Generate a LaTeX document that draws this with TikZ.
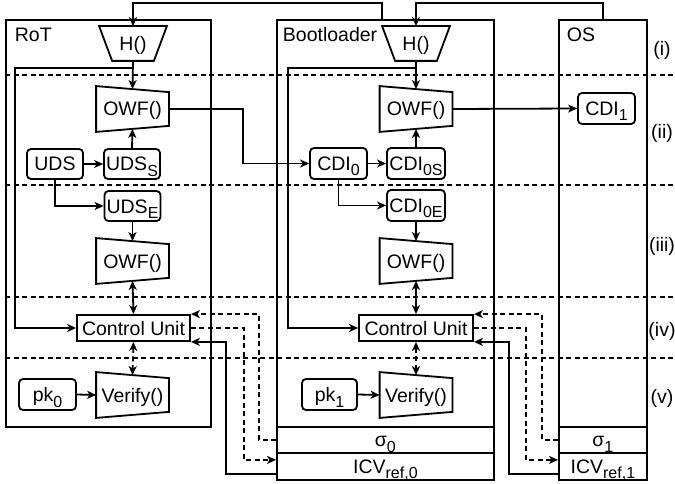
\documentclass[tikz,border=0pt]{standalone}
\usepackage{fontspec}
\setmainfont{Liberation Sans}
\usetikzlibrary{arrows.meta,calc}
\newcommand\sbs[1]{\raisebox{-5.5pt}[0pt][0pt]{\fontsize{16}{16}\selectfont #1}}
\begin{document}
\begin{tikzpicture}[x=1pt,y=-1pt, line width=1.8pt,
  font=\fontsize{19.5}{22}\selectfont,
  tip/.tip={Stealth[length=9pt,width=8pt,inset=2.5pt]},
  arr/.style={-tip},
  barr/.style={tip-tip},
  dsh/.style={dash pattern=on 5pt off 3.5pt},
  box/.style={draw, inner sep=0pt, text height=14pt, text depth=0pt},
  rbox/.style={box, rounded corners=4pt},
  shp/.style={inner sep=0pt, text height=14pt, text depth=0pt, minimum width=71pt, minimum height=44pt},
  hshp/.style={inner sep=0pt, text height=14pt, text depth=0pt, minimum width=66pt, minimum height=33pt},
  cont/.style={draw, inner sep=0pt, anchor=north west},
  cell/.style={cont, text height=14pt, text depth=0pt},
  lbl/.style={inner sep=0pt, anchor=base west},
  side/.style={inner sep=0pt, text height=14pt, text depth=0pt},
]
\useasboundingbox (0,0) rectangle (675,484);

% phase separators
\foreach \yy in {75,185,297,358}
  \draw[dsh] (5,\yy) -- (675,\yy);

% containers
\node[cont, minimum width=205pt, minimum height=407pt] (rot) at (5,19) {};
\node[cont, minimum width=217pt, minimum height=407pt] (boot) at (276,19) {};
\node[cont, minimum width=88pt, minimum height=407pt] (os) at (558,19) {};
\node[cell, minimum width=217pt, minimum height=26pt] (sig0) at (276,426) {σ\sbs{0}};
\node[cell, minimum width=217pt, minimum height=27pt] (icv0) at (276,452) {ICV\sbs{ref,0}};
\node[cell, minimum width=88pt, minimum height=26pt] (sig1) at (558,426) {σ\sbs{1}};
\node[cell, minimum width=88pt, minimum height=27pt] (icv1) at (558,452) {ICV\sbs{ref,1}};

\node[lbl] (lrot) at (14,42) {RoT};
\node[lbl] (lboot) at (282,42) {Bootloader};
\node[lbl] (los) at (566,42) {OS};

\node[side] (p1) at (662,49) {(i)};
\node[side] (p2) at (662,132) {(ii)};
\node[side] (p3) at (662,244) {(iii)};
\node[side] (p4) at (662,329) {(iv)};
\node[side] (p5) at (662,396) {(v)};

% RoT column
\node[hshp] (hR) at (133,43.5) {H()};
\node[shp] (owf1R) at (132.5,109) {OWF()};
\node[shp] (owf2R) at (132.5,261) {OWF()};
\node[shp] (verR) at (132.5,395) {Verify()};
\node[rbox, minimum width=56pt, minimum height=30pt] (udsR) at (55,164) {UDS};
\node[rbox, minimum width=56pt, minimum height=30pt] (udssR) at (132,164) {UDS\sbs{S}};
\node[rbox, minimum width=56pt, minimum height=30pt] (udseR) at (132.5,206) {UDS\sbs{E}};
\node[rbox, minimum width=57pt, minimum height=31pt] (pk0) at (47.5,394.5) {pk\sbs{0}};
\node[box, minimum width=113pt, minimum height=26pt] (cuR) at (133.5,328) {Control Unit};

% Bootloader column
\node[hshp] (hB) at (416,43.5) {H()};
\node[shp] (owf1B) at (416,109) {OWF()};
\node[shp] (owf2B) at (416,261) {OWF()};
\node[shp] (verB) at (416,395) {Verify()};
\node[rbox, minimum width=57pt, minimum height=31pt] (cdi0) at (338.5,163.5) {CDI\sbs{0}};
\node[rbox, minimum width=58pt, minimum height=31pt] (cdi0s) at (416,163.5) {CDI\sbs{0S}};
\node[rbox, minimum width=58pt, minimum height=31pt] (cdi0e) at (416,205.5) {CDI\sbs{0E}};
\node[rbox, minimum width=55pt, minimum height=31pt] (pk1) at (329.5,394.5) {pk\sbs{1}};
\node[box, minimum width=114pt, minimum height=26pt] (cuB) at (416,328) {Control Unit};

% OS column
\node[rbox, minimum width=57pt, minimum height=31pt] (cdi1) at (606.5,108.5) {CDI\sbs{1}};

% trapezoid outlines
\foreach \n in {owf1R,owf2R,verR,owf1B,owf2B,verB}
  \draw (\n.north west) -- ([yshift=-6pt]\n.north east) -- ([yshift=6pt]\n.south east) -- (\n.south west) -- cycle;
\foreach \n in {hR,hB}
  \draw (\n.north west) -- (\n.north east) -- ([xshift=-13pt]\n.south east) -- ([xshift=13pt]\n.south west) -- cycle;

% top feedback lines
\draw[arr] (hB.west |- boot.north) -- ++(0,-16) -| (hR.north);
\draw[arr] (os.north) -- ++(0,-16) -| (hB.north);

% RoT flow
\draw[arr] (hR.south) -- ([yshift=-3pt]owf1R.north);
\draw[arr] (hR.south) -- ++(0,7) -- ++(-118,0) |- (cuR.west);
\draw[arr] (owf1R.east) -- ++(74,0) |- (cdi0.west);
\draw[arr] (udsR.east) -- (udssR.west);
\draw[arr] (udssR.north) -- ([yshift=3pt]owf1R.south);
\draw[arr] (udsR.south) |- (udseR.west);
\draw[arr] (udseR.south) -- ([yshift=-3pt]owf2R.north);
\draw[barr] ([yshift=3pt]owf2R.south) -- (cuR.north);
\draw[barr,dsh] (cuR.south) -- ([yshift=-3pt]verR.north);
\draw[arr] (pk0.east) -- (verR.west);

% RoT <-> Bootloader storage
\draw[arr,dsh] (sig0.west) -- ++(-17,0) |- (cuR.north east);
\draw[arr,dsh] (cuR.east) -- ++(53,0) |- ([yshift=6.5pt]icv0.west);
\draw[arr] ([yshift=-7.5pt]icv0.west) -- ++(-50,0) |- (cuR.south east);

% Bootloader flow
\draw[arr] (hB.south) -- ([yshift=-3pt]owf1B.north);
\draw[arr] (hB.south) -- ++(0,7) -- ++(-128,0) |- (cuB.west);
\draw[arr] (owf1B.east) -- (cdi1.west);
\draw[arr] (cdi0.east) -- (cdi0s.west);
\draw[arr] (cdi0s.north) -- ([yshift=3pt]owf1B.south);
\draw[arr] (cdi0.south) |- (cdi0e.west);
\draw[arr] (cdi0e.south) -- ([yshift=-3pt]owf2B.north);
\draw[barr] ([yshift=3pt]owf2B.south) -- (cuB.north);
\draw[barr,dsh] (cuB.south) -- ([yshift=-3pt]verB.north);
\draw[arr] (pk1.east) -- (verB.west);

% Bootloader <-> OS storage
\draw[arr,dsh] (sig1.west) -- ++(-16,0) |- (cuB.north east);
\draw[arr,dsh] (cuB.east) -- ++(52,0) |- ([yshift=6.5pt]icv1.west);
\draw[arr] ([yshift=-7.5pt]icv1.west) -- ++(-49,0) |- (cuB.south east);
\end{tikzpicture}
\end{document}
